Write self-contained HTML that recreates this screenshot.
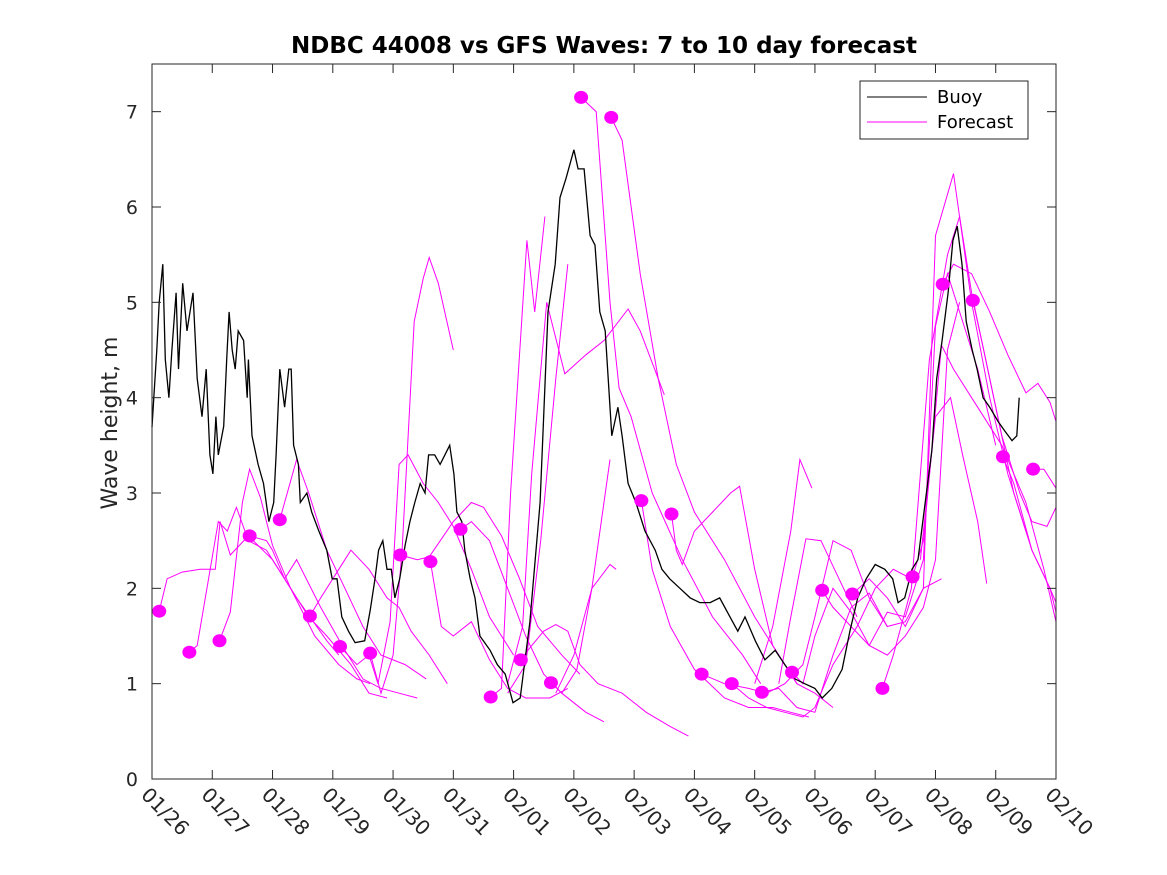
<!DOCTYPE html>
<html><head><meta charset="utf-8"><style>
body{margin:0;background:#fff}
svg{display:block;font-family:"DejaVu Sans","Liberation Sans",sans-serif}
</style></head><body>
<svg id="chart" width="1167" height="875" viewBox="0 0 1167 875" xmlns="http://www.w3.org/2000/svg">
<rect width="1167" height="875" fill="#fff"/>
<rect x="152" y="64" width="904" height="715" fill="#fff"/>
<g id="marks"></g>
<rect x="152" y="64" width="904" height="715" fill="none" stroke="#262626" stroke-width="1"/>
<g id="axes"></g>
<text x="604" y="53" text-anchor="middle" font-size="23" font-weight="bold" fill="#000">NDBC 44008 vs GFS Waves: 7 to 10 day forecast</text>
<text transform="translate(117,423) rotate(-90)" text-anchor="middle" font-size="22" fill="#262626">Wave height, m</text>
<g>
<rect x="860" y="81" width="168" height="58" fill="#fff" stroke="#262626" stroke-width="1"/>
<line x1="867" y1="97" x2="927" y2="97" stroke="#000" stroke-width="1"/>
<text x="937" y="103" font-size="18" fill="#000">Buoy</text>
<line x1="867" y1="122" x2="927" y2="122" stroke="#ff00ff" stroke-width="1"/>
<text x="937" y="128" font-size="18" fill="#000">Forecast</text>
</g>
</svg>
<script>
const xTickLabels=["01/26","01/27","01/28","01/29","01/30","01/31","02/01","02/02","02/03","02/04","02/05","02/06","02/07","02/08","02/09","02/10"];
const yTicks=[0,1,2,3,4,5,6,7];
const buoyDays=[0,0.03,0.08,0.12,0.18,0.22,0.28,0.33,0.40,0.44,0.51,0.58,0.68,0.75,0.83,0.90,0.96,1.01,1.06,1.10,1.19,1.24,1.28,1.33,1.38,1.43,1.52,1.58,1.60,1.66,1.76,1.85,1.94,2.02,2.06,2.12,2.20,2.27,2.31,2.35,2.43,2.46,2.57,2.65,2.77,2.90,2.99,3.07,3.15,3.26,3.37,3.53,3.62,3.70,3.76,3.83,3.90,3.97,4.03,4.11,4.20,4.28,4.36,4.45,4.53,4.59,4.69,4.78,4.86,4.94,5.01,5.06,5.14,5.19,5.28,5.36,5.44,5.61,5.73,5.86,5.99,6.11,6.27,6.44,6.57,6.69,6.77,6.87,7.00,7.07,7.17,7.27,7.35,7.43,7.52,7.63,7.73,7.80,7.90,8.03,8.18,8.35,8.46,8.59,8.76,8.93,9.09,9.26,9.42,9.59,9.72,9.84,10.01,10.17,10.34,10.50,10.67,10.83,11.00,11.12,11.28,11.45,11.58,11.71,11.85,12.00,12.16,12.29,12.38,12.49,12.61,12.71,12.83,12.94,13.02,13.11,13.21,13.29,13.36,13.44,13.51,13.61,13.69,13.79,13.90,14.04,14.15,14.27,14.35,14.39];
const buoyValues=[3.69,4.0,4.5,5.0,5.4,4.4,4.0,4.5,5.1,4.3,5.2,4.7,5.1,4.2,3.8,4.3,3.4,3.2,3.8,3.4,3.7,4.4,4.9,4.5,4.3,4.7,4.6,4.0,4.4,3.6,3.3,3.1,2.7,2.9,3.4,4.3,3.9,4.3,4.3,3.5,3.3,2.9,3.0,2.8,2.6,2.4,2.1,2.1,1.7,1.55,1.43,1.45,1.77,2.1,2.4,2.5,2.2,2.2,1.9,2.1,2.45,2.7,2.9,3.1,3.0,3.4,3.4,3.3,3.4,3.5,3.2,2.8,2.7,2.4,2.1,1.9,1.5,1.35,1.2,1.1,0.8,0.85,1.65,2.9,4.9,5.4,6.1,6.3,6.6,6.4,6.4,5.7,5.6,4.9,4.7,3.6,3.9,3.6,3.1,2.9,2.6,2.4,2.2,2.1,2.0,1.9,1.85,1.85,1.9,1.7,1.55,1.7,1.45,1.25,1.35,1.2,1.05,1.0,0.95,0.85,0.95,1.15,1.55,1.9,2.1,2.25,2.2,2.1,1.85,1.9,2.2,2.3,2.9,3.45,4.2,4.6,5.1,5.65,5.8,5.4,4.8,4.5,4.3,4.0,3.9,3.75,3.65,3.55,3.6,4.0];
const dotDays=[0.12,0.62,1.12,1.62,2.12,2.62,3.12,3.62,4.12,4.62,5.12,5.62,6.12,6.62,7.12,7.62,8.12,8.62,9.12,9.62,10.12,10.62,11.12,11.62,12.12,12.62,13.12,13.62,14.12,14.62];
const dotValues=[1.76,1.33,1.45,2.55,2.72,1.71,1.39,1.32,2.35,2.28,2.62,0.86,1.25,1.01,7.15,6.94,2.92,2.78,1.10,1.00,0.91,1.12,1.98,1.94,0.95,2.12,5.19,5.02,3.38,3.25];
const fc01=[[0.12,1.76],[0.25,2.1],[0.5,2.17],[0.8,2.2],[1.05,2.2],[1.13,2.7],[1.3,2.35],[1.6,2.55],[2.0,2.3],[2.4,1.9],[2.9,1.45],[3.1,1.3]];
const fc02=[[0.62,1.33],[0.75,1.4],[1.1,2.7],[1.25,2.6],[1.4,2.85],[1.6,2.5],[1.9,2.4],[2.3,2.0],[2.7,1.5],[3.1,1.2],[3.4,1.05],[3.62,1.0]];
const fc03=[[1.12,1.45],[1.3,1.75],[1.5,2.9],[1.62,3.25],[1.8,2.95],[2.0,2.45],[2.3,2.0],[2.6,1.7],[2.9,1.5],[3.3,1.2],[3.6,0.9],[3.9,0.85]];
const fc04=[[1.62,2.55],[1.9,2.5],[2.0,2.4],[2.2,2.1],[2.4,2.3],[2.8,1.8],[3.2,1.35],[3.5,1.05],[3.8,0.95],[4.1,0.9],[4.4,0.85]];
const fc05=[[2.12,2.72],[2.4,3.35],[2.6,3.0],[2.9,2.4],[3.2,2.0],[3.5,1.6],[3.8,1.3],[4.2,1.2],[4.55,1.05]];
const fc06=[[2.62,1.71],[2.8,1.9],[3.1,2.2],[3.3,2.4],[3.6,2.2],[3.9,1.9],[4.1,1.8],[4.3,1.55],[4.6,1.3],[4.9,1.0]];
const fc07=[[3.12,1.39],[3.4,1.2],[3.6,1.3],[3.75,1.0],[3.95,1.65],[4.1,3.3],[4.25,3.4],[4.5,3.1],[4.75,2.9],[5.0,2.65],[5.3,2.2],[5.6,1.7],[6.0,1.3]];
const fc08=[[3.62,1.32],[3.8,0.9],[4.0,1.3],[4.15,2.4],[4.35,4.8],[4.5,5.25],[4.6,5.47],[4.75,5.2],[5.0,4.5]];
const fc09=[[4.12,2.35],[4.4,2.3],[4.6,2.33],[5.0,2.7],[5.3,2.9],[5.5,2.85],[5.8,2.55],[6.1,2.1],[6.4,1.6],[6.8,1.3],[7.1,1.1]];
const fc10=[[4.62,2.28],[4.8,1.6],[5.0,1.5],[5.3,1.65],[5.6,1.25],[5.9,0.95],[6.2,0.85],[6.6,0.85],[6.9,0.95]];
const fc11=[[5.12,2.62],[5.3,2.7],[5.6,2.5],[5.9,2.0],[6.2,1.5],[6.5,1.1],[6.8,0.9],[7.2,0.7],[7.5,0.6]];
const fc12=[[5.62,0.86],[5.8,0.95],[5.95,3.0],[6.22,5.65],[6.35,4.9],[6.52,5.9]];
const fc13=[[6.12,1.25],[6.3,1.4],[6.5,1.55],[6.7,1.62],[6.9,1.55],[7.1,1.2],[7.4,1.0],[7.8,0.9],[8.2,0.7],[8.6,0.55],[8.9,0.45]];
const fc14=[[6.62,1.01],[6.8,0.9],[7.05,1.15],[7.3,2.0],[7.6,3.35]];
const fc15=[[5.9,0.9],[6.2,1.2],[6.45,2.5],[6.7,4.2],[6.9,5.4]];
const fc16=[[5.9,1.0],[6.15,1.6],[6.3,3.2],[6.55,5.0],[6.85,4.25],[7.2,4.45],[7.5,4.6],[7.9,4.93],[8.1,4.7],[8.5,4.03]];
const fc17=[[7.12,7.15],[7.37,7.0],[7.6,5.0],[7.75,4.1],[7.95,3.8],[8.3,3.0],[8.8,2.3],[9.3,1.7],[9.8,1.3],[10.1,1.0]];
const fc18=[[7.62,6.94],[7.8,6.7],[8.1,5.3],[8.4,4.2],[8.7,3.3],[9.0,2.8],[9.5,2.3],[10.0,1.7],[10.4,1.3],[10.7,1.0]];
const fc19=[[8.12,2.92],[8.3,2.2],[8.6,1.6],[9.0,1.15],[9.5,0.85],[9.9,0.75],[10.3,0.75],[10.6,0.7],[10.9,0.65]];
const fc20=[[8.62,2.78],[8.7,2.4],[8.8,2.25],[9.0,2.6],[9.3,2.8],[9.6,3.0],[9.75,3.07],[10.0,2.2],[10.3,1.4],[10.7,1.0],[11.0,0.9],[11.3,0.75]];
const fc21=[[9.12,1.10],[9.5,1.0],[9.9,0.95],[10.2,0.9],[10.5,1.0],[10.8,1.2],[11.0,1.7],[11.3,2.5],[11.6,2.4],[11.9,1.9],[12.2,1.6]];
const fc22=[[9.62,1.00],[9.9,0.85],[10.2,0.75],[10.5,0.7],[10.8,0.65],[11.0,0.75],[11.3,1.2],[11.7,1.6],[12.0,2.0],[12.3,2.2],[12.6,2.1]];
const fc23=[[10.12,0.91],[10.4,0.95],[10.7,0.75],[11.0,0.7],[11.3,1.3],[11.6,1.8],[11.9,1.95],[12.2,1.6],[12.5,1.65],[12.8,2.0],[13.1,2.1]];
const fc24=[[10.62,1.12],[10.8,1.0],[11.0,1.5],[11.3,2.0],[11.6,1.75],[11.9,1.4],[12.2,1.3],[12.5,1.5],[12.8,1.8],[13.0,2.3],[13.2,4.5],[13.4,5.0]];
const fc25=[[11.12,1.98],[11.3,1.8],[11.6,1.6],[11.9,1.4],[12.2,1.75],[12.5,1.7],[12.8,2.3],[13.0,4.75],[13.2,5.3],[13.4,4.9],[13.7,4.3],[14.0,3.5]];
const fc26=[[11.62,1.94],[11.9,2.1],[12.2,1.9],[12.5,1.6],[12.8,2.0],[13.0,5.7],[13.3,6.35],[13.6,5.0],[13.9,4.0],[14.2,3.2],[14.5,2.6]];
const fc27=[[12.12,0.95],[12.3,1.3],[12.6,2.0],[12.9,4.4],[13.2,5.5],[13.4,5.9],[13.6,5.1],[13.9,4.2],[14.3,3.0],[14.6,2.4],[14.9,2.0],[15.0,1.75]];
const fc28=[[12.62,2.12],[12.8,2.5],[13.1,4.55],[13.3,4.3],[13.6,4.0],[13.8,3.8],[14.1,3.5],[14.5,2.9],[14.8,2.2],[15.0,1.65]];
const fc29=[[13.12,5.19],[13.3,5.4],[13.6,5.3],[13.9,4.9],[14.2,4.45],[14.5,4.05],[14.7,4.15],[14.9,3.95],[15.0,3.75]];
const fc30=[[13.62,5.02],[13.8,4.5],[14.1,3.6],[14.4,3.0],[14.6,2.7],[14.85,2.65],[15.0,2.85]];
const fc31=[[14.12,3.38],[14.3,3.1],[14.6,2.4],[14.9,2.0],[15.0,1.85]];
const fc32=[[14.62,3.25],[14.8,3.25],[15.0,3.05]];
const fc33=[[12.75,2.3],[13.0,3.8],[13.25,4.0],[13.45,3.4],[13.7,2.7],[13.85,2.05]];
const fc34=[[10.0,1.0],[10.3,1.6],[10.6,2.6],[10.75,3.35],[10.95,3.05]];
const fc35=[[10.4,1.0],[10.6,1.7],[10.85,2.52],[11.1,2.5],[11.4,2.1],[11.7,1.7]];
const fc36=[[6.7,0.9],[7.0,1.3],[7.3,2.0],[7.6,2.25],[7.7,2.2]];
const forecasts=[fc01,fc02,fc03,fc04,fc05,fc06,fc07,fc08,fc09,fc10,fc11,fc12,fc13,fc14,fc15,fc16,fc17,fc18,fc19,fc20,fc21,fc22,fc23,fc24,fc25,fc26,fc27,fc28,fc29,fc30,fc31,fc32,fc33,fc34,fc35,fc36];

const NS="http://www.w3.org/2000/svg";
const X0=152,X1=1056,Y0=779,Y1=64,DAYS=15,YMAX=7.5;
function xs(d){return X0+d*(X1-X0)/DAYS;}
function ys(v){return Y0-v*(Y0-Y1)/YMAX;}
const marks=document.getElementById('marks');
const axes=document.getElementById('axes');
function mk(tag,attrs,parent){const e=document.createElementNS(NS,tag);for(const k in attrs)e.setAttribute(k,attrs[k]);parent.appendChild(e);return e;}

yTicks.forEach(function(v){
  const y=ys(v);
  const t1=mk('line',{x1:X0,y1:y,x2:X0+9,y2:y,stroke:'#262626'},axes);
  
  
  const t2=mk('line',{x1:X1-9,y1:y,x2:X1,y2:y,stroke:'#262626'},axes);
  
  
  const tx=mk('text',{x:X0-14,y:y+7,'text-anchor':'end','font-size':19,fill:'#262626'},axes);
  tx.textContent=String(v);
  
  
});
xTickLabels.forEach(function(lab,i){
  const x=xs(i);
  const t1=mk('line',{x1:x,y1:Y0,x2:x,y2:Y0-9,stroke:'#262626'},axes);
  
  
  const t2=mk('line',{x1:x,y1:Y1,x2:x,y2:Y1+9,stroke:'#262626'},axes);
  
  
  const tx=mk('text',{transform:'translate('+(x-12)+',796) rotate(45)','font-size':20,fill:'#262626'},axes);
  tx.textContent=lab;
  
  
});

forecasts.forEach(function(s){
  const p=mk('polyline',{points:s.map(function(q){return xs(q[0]).toFixed(1)+','+ys(q[1]).toFixed(1);}).join(' '),fill:'none',stroke:'#ff00ff','stroke-width':1},marks);
  
  
});
const bp=mk('polyline',{points:buoyDays.map(function(d,i){return xs(d).toFixed(1)+','+ys(buoyValues[i]).toFixed(1);}).join(' '),fill:'none',stroke:'#000','stroke-width':1.3},marks);


dotDays.forEach(function(d,i){
  const c=mk('ellipse',{cx:xs(d),cy:ys(dotValues[i]),rx:7,ry:6.5,fill:'#ff00ff'},marks);
  
  
});
</script>
</body></html>
